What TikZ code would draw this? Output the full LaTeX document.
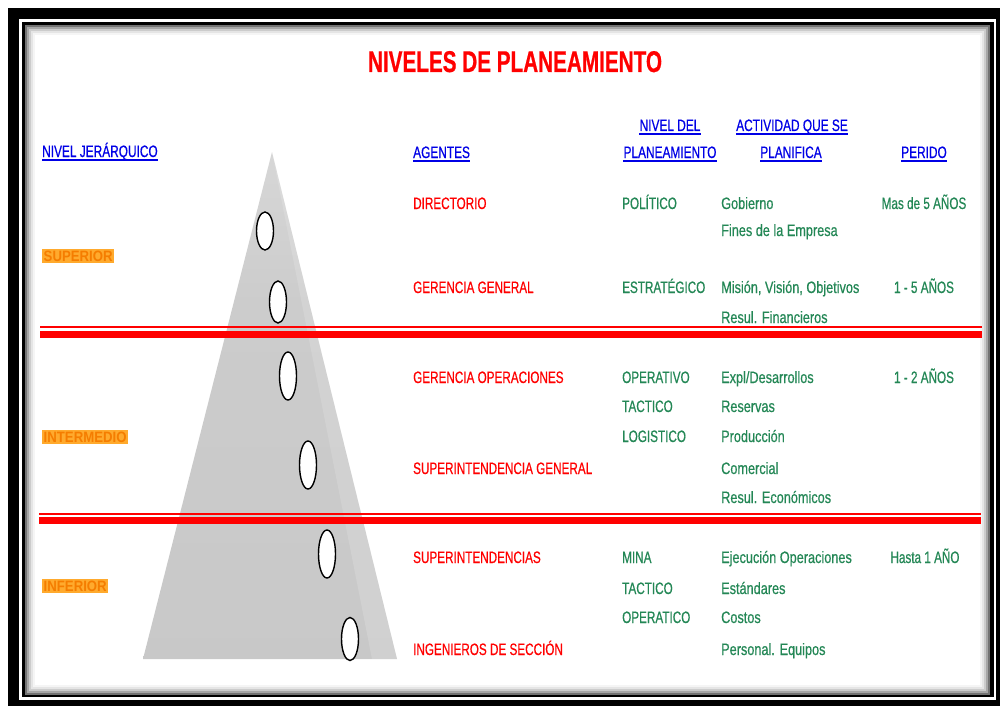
\documentclass[tikz,border=0pt]{standalone}
\usepackage{fontspec}
\usetikzlibrary{shapes.geometric}
\newfontfamily\nar[FakeStretch=0.71,FakeBold=0.5]{Liberation Sans}
\newfontfamily\narL[FakeStretch=0.77,FakeBold=0.5]{Liberation Sans}
\newfontfamily\narH[FakeStretch=0.72,FakeBold=0.5]{Liberation Sans}
\newfontfamily\narT[FakeStretch=0.69,FakeBold=0.6]{Liberation Sans}
\newfontfamily\narO[FakeStretch=0.88]{Liberation Sans}
\definecolor{agred}{RGB}{255,0,0}
\definecolor{lvgreen}{RGB}{35,135,85}
\definecolor{hdblue}{RGB}{0,0,230}
\definecolor{orng}{RGB}{245,125,0}
\definecolor{orngbg}{RGB}{255,170,45}
\begin{document}
\begin{tikzpicture}[x=1pt,y=-1pt,
  txt/.style={inner sep=0pt, font=\nar\fontsize{16.5}{18}\selectfont},
  agent/.style={txt, text=agred, anchor=base west},
  lvl/.style={txt, text=lvgreen, anchor=base west},
  act/.style={lvl, font=\narL\fontsize{16.5}{18}\selectfont},
  per/.style={txt, text=lvgreen, anchor=base},
  hdr/.style={txt, text=hdblue, font=\narH\fontsize{16.5}{18}\selectfont},
  ulline/.style={hdblue, line width=1.2pt},
  levelname/.style={inner sep=1.5pt, anchor=west, text=orng, fill=orngbg, font=\narO\bfseries\fontsize{15}{17}\selectfont},
  title/.style={inner sep=0pt, anchor=base, text=agred, font=\narT\bfseries\fontsize{30}{32}\selectfont},
  hole/.style={ellipse, draw=black, line width=1.4pt, fill=white, minimum width=17pt, inner sep=0pt},
  sep/.style={agred}
]
\pgfdeclareverticalshading{pyr}{100bp}{color(0bp)=(gray!45); color(60bp)=(gray!40); color(85bp)=(gray!26); color(100bp)=(gray!5)}
% canvas and frame
\fill[white] (0,0) rectangle (1000,706);
\useasboundingbox (0,0) rectangle (1000,706);
\fill[black] (8,8) rectangle (1000,706);
\fill[white] (19,19) rectangle (996,700);
\fill[black] (22,22) rectangle (994,697);
\fill[black!55] (25,25) rectangle (990,695);
\fill[black!35] (27,27) rectangle (988,693);
\fill[black!20] (29,29) rectangle (986,691);
\fill[black!10] (31,31) rectangle (984,689);
\fill[black!4] (33,33) rectangle (982,687);
\fill[white] (35,35) rectangle (980,685);

% pyramid
\coordinate (apex) at (272,152);
\coordinate (bl) at (143,659);
\coordinate (br) at (397,659);
\shade[shading=pyr] (apex) -- (bl) -- (br) -- cycle;
\fill[white, opacity=0.15] (apex) -- (br) -- (372,659) -- cycle;

% red separators
\draw[sep, line width=1.5pt] (40,327) -- (982,327);
\fill[sep] (40,330.5) rectangle (982,337.5);
\draw[sep, line width=1.5pt] (39,514) -- (981,514);
\fill[sep] (39,517) rectangle (981,524);

% holes
\node[hole, minimum height=38pt] (e1) at (265,231) {};
\node[hole, minimum height=42pt] (e2) at (278,302) {};
\node[hole, minimum height=48pt] (e3) at (288,376) {};
\node[hole, minimum height=48pt] (e4) at (308,465) {};
\node[hole, minimum height=48pt] (e5) at (327,554) {};
\node[hole, minimum height=43pt] (e6) at (350,639) {};

% title
\node[title] (t) at (515,72) {NIVELES DE PLANEAMIENTO};

% headers
\node[hdr, anchor=base west] (h1) at (42,157) {NIVEL JERÁRQUICO};
\node[hdr, anchor=base west] (h2) at (413,158) {AGENTES};
\node[hdr, anchor=base] (h3) at (670,131) {NIVEL DEL};
\node[hdr, anchor=base] (h4) at (670,158) {PLANEAMIENTO};
\node[hdr, anchor=base] (h5) at (792,131) {ACTIVIDAD QUE SE};
\node[hdr, anchor=base] (h6) at (791,158) {PLANIFICA};
\node[hdr, anchor=base] (h7) at (924,158) {PERIDO};
\foreach \n in {h1,h2,h3,h4,h5,h6,h7}
  \draw[ulline] ([yshift=-3pt]\n.base west) -- ([yshift=-3pt]\n.base east);

% level names
\node[levelname] (l1) at (42,256) {SUPERIOR};
\node[levelname] (l2) at (42,437) {INTERMEDIO};
\node[levelname] (l3) at (42,586) {INFERIOR};

% agents
\node[agent] (a1) at (413,209) {DIRECTORIO};
\node[agent] (a2) at (413,293) {GERENCIA GENERAL};
\node[agent] (a3) at (413,383) {GERENCIA OPERACIONES};
\node[agent] (a4) at (413,474) {SUPERINTENDENCIA GENERAL};
\node[agent] (a5) at (413,563) {SUPERINTENDENCIAS};
\node[agent] (a6) at (413,655) {INGENIEROS DE SECCIÓN};

% planning level
\node[lvl] (n1) at (622,209) {POLÍTICO};
\node[lvl] (n2) at (622,293) {ESTRATÉGICO};
\node[lvl] (n3) at (622,383) {OPERATIVO};
\node[lvl] (n4) at (622,412) {TACTICO};
\node[lvl] (n5) at (622,442) {LOGISTICO};
\node[lvl] (n6) at (622,563) {MINA};
\node[lvl] (n7) at (622,594) {TACTICO};
\node[lvl] (n8) at (622,623) {OPERATICO};

% activities
\node[act] (c1) at (721,209) {Gobierno};
\node[act] (c2) at (721,236) {Fines de la Empresa};
\node[act] (c3) at (721,293) {Misión, Visión, Objetivos};
\node[act] (c4) at (721,323) {Resul. Financieros};
\node[act] (c5) at (721,383) {Expl/Desarrollos};
\node[act] (c6) at (721,412) {Reservas};
\node[act] (c7) at (721,442) {Producción};
\node[act] (c8) at (721,474) {Comercial};
\node[act] (c9) at (721,503) {Resul. Económicos};
\node[act] (c10) at (721,563) {Ejecución Operaciones};
\node[act] (c11) at (721,594) {Estándares};
\node[act] (c12) at (721,623) {Costos};
\node[act] (c13) at (721,655) {Personal. Equipos};

% periods
\node[per] (p1) at (924,209) {Mas de 5 AÑOS};
\node[per] (p2) at (924,293) {1 - 5 AÑOS};
\node[per] (p3) at (924,383) {1 - 2 AÑOS};
\node[per] (p4) at (925,563) {Hasta 1 AÑO};
\end{tikzpicture}
\end{document}
